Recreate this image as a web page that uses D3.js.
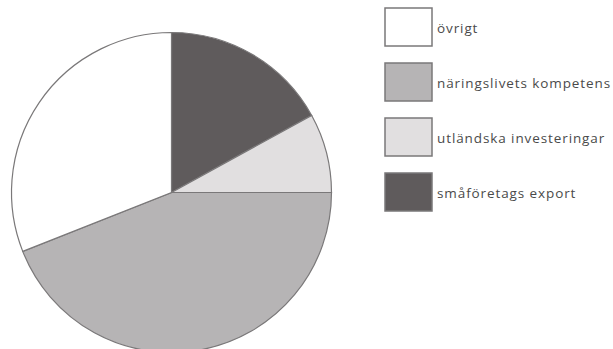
<!DOCTYPE html>
<html>
<head>
<meta charset="utf-8">
<script src="https://cdn.jsdelivr.net/npm/d3@7"></script>
<style>
  body { margin: 0; background: #fff; }
  text { font-family: "Open Sans", sans-serif; }
</style>
</head>
<body>
<svg></svg>
<script>
  var width = 613;
  var height = 349;

  // slices, clockwise from 12 o'clock
  var categories = ['småföretags export', 'utländska investeringar', 'näringslivets kompetens', 'övrigt'];
  var values = [17, 8, 44, 31];
  var colors = ['#5f5b5c', '#e1dfe0', '#b6b4b5', '#ffffff'];
  // legend order, top to bottom
  var legendOrder = ['övrigt', 'näringslivets kompetens', 'utländska investeringar', 'småföretags export'];

  var svg = d3.select('svg')
    .attr('width', width)
    .attr('height', height);

  var data = categories.map(function (c, i) {
    return { name: c, value: values[i] };
  });

  var color = d3.scaleOrdinal()
    .domain(categories)
    .range(colors);

  var pie = d3.pie()
    .sort(null)
    .value(function (d) { return d.value; });

  var arc = d3.arc()
    .innerRadius(0)
    .outerRadius(160);

  var g = svg.append('g')
    .attr('transform', 'translate(171.5,192.5)');

  g.selectAll('path')
    .data(pie(data))
    .enter()
    .append('path')
    .attr('d', arc)
    .attr('fill', function (d) { return color(d.data.name); })
    .attr('stroke', '#7a7879')
    .attr('stroke-width', 1.2);

  // legend
  var ly = d3.scalePoint()
    .domain(legendOrder)
    .range([27, 192]);

  var legend = svg.append('g')
    .selectAll('g')
    .data(legendOrder)
    .enter()
    .append('g')
    .attr('transform', function (d) { return 'translate(0,' + ly(d) + ')'; });

  legend.append('rect')
    .attr('x', 385)
    .attr('y', -19)
    .attr('width', 47)
    .attr('height', 38)
    .attr('fill', function (d) { return color(d); })
    .attr('stroke', '#7a7879')
    .attr('stroke-width', 1.5);

  legend.append('text')
    .attr('x', 437)
    .attr('y', 1)
    .attr('dy', '0.35em')
    .attr('font-size', 13.5)
    .attr('letter-spacing', 0.9)
    .attr('fill', '#4a4a4a')
    .text(function (d) { return d; });
</script>
</body>
</html>
